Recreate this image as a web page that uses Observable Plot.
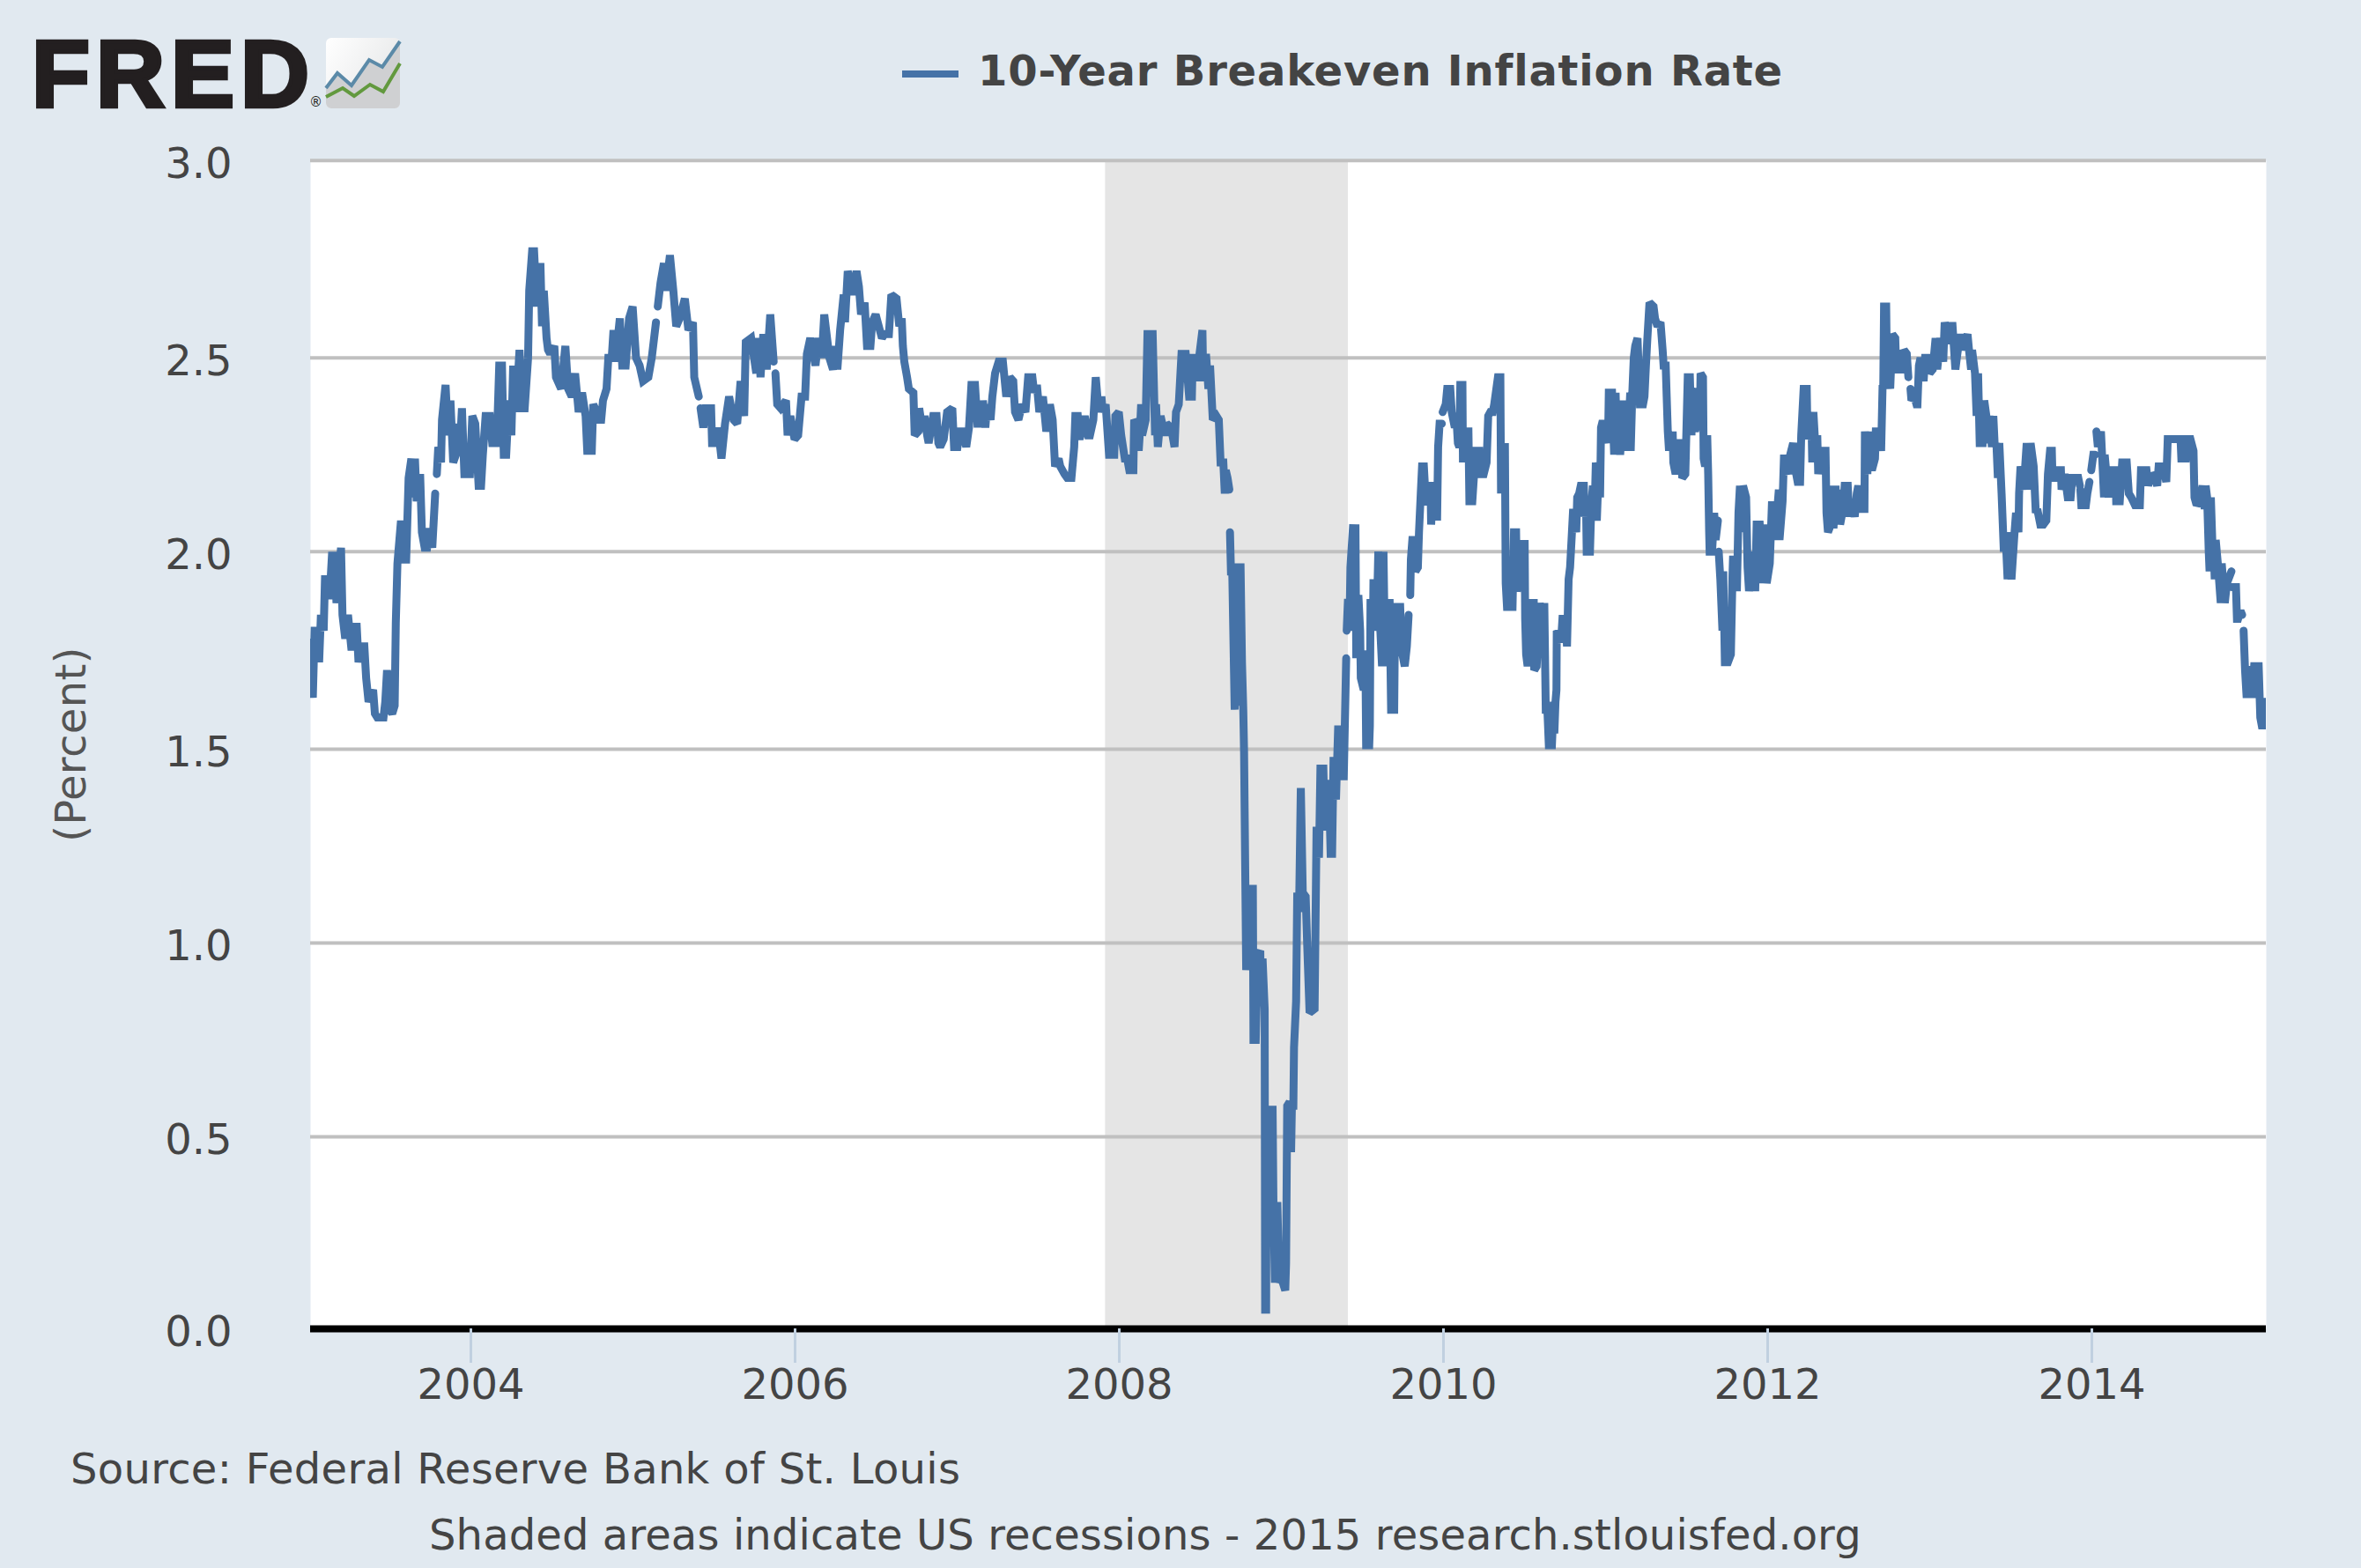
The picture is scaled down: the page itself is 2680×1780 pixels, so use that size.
<!DOCTYPE html>
<html>
<head>
<meta charset="utf-8">
<script src="https://cdn.jsdelivr.net/npm/d3@7"></script>
<script src="https://cdn.jsdelivr.net/npm/@observablehq/plot@0.6"></script>
<style>
html,body{margin:0;padding:0;background:#E1E9F0;width:2680px;height:1780px;overflow:hidden;font-family:"DejaVu Sans",sans-serif;}
#wrap{position:relative;width:2680px;height:1780px;}
#chart{position:absolute;left:0;top:0;}
.t{position:absolute;white-space:nowrap;line-height:1;}
</style>
</head>
<body>
<div id="wrap">
<div id="chart"></div>
<svg style="position:absolute;left:0;top:0" width="470" height="140">
  <defs><linearGradient id="g" x1="0" y1="0" x2="1" y2="0.6"><stop offset="0" stop-color="#ffffff"/><stop offset="1" stop-color="#e6e7e8"/></linearGradient></defs>
  <rect x="370" y="43" width="84" height="80" rx="6" fill="url(#g)"/>
  <path d="M370 100L383 83L399 97L419 68L434 76L454 47V117a6 6 0 0 1-6 6H376a6 6 0 0 1-6-6Z" fill="#cfd0d2"/>
  <polyline points="370,100 383,83 399,97 419,68 434,76 454,47" fill="none" stroke="#5B8AA8" stroke-width="4"/>
  <polyline points="370,110 389,100 402,109 420,96 435,104 454,72" fill="none" stroke="#62993E" stroke-width="4"/>
</svg>
<div class="t" id="logo" style="left:36px;top:30px;font-family:'Liberation Sans';font-weight:700;font-size:108px;letter-spacing:7px;color:#231F20;-webkit-text-stroke:4.5px #231F20;">FRE<span style="letter-spacing:0;">D</span><span style="font-family:'DejaVu Sans';font-weight:400;font-size:15px;letter-spacing:0;-webkit-text-stroke:0;">®</span></div>
<svg style="position:absolute;left:1024px;top:78px" width="64" height="12"><line x1="0" x2="64" y1="6" y2="6" stroke="#4572A7" stroke-width="8"/></svg>
<div class="t" id="title" style="left:1110px;top:56px;font-weight:700;font-size:48px;letter-spacing:0.8px;color:#444444;">10-Year Breakeven Inflation Rate</div>
<div class="t" id="ylab" style="left:80px;top:845px;font-size:48px;letter-spacing:0.4px;color:#555;transform:translate(-50%,-50%) rotate(-90deg);">(Percent)</div>
<div class="t" id="src1" style="left:80px;top:1643px;font-size:48px;letter-spacing:0.3px;color:#444;">Source: Federal Reserve Bank of St. Louis</div>
<div class="t" id="src2" style="left:487px;top:1718px;font-size:48px;letter-spacing:0.12px;color:#444;">Shaded areas indicate US recessions - 2015 research.stlouisfed.org</div>
</div>
<script>
const yTicks = [0, 0.5, 1, 1.5, 2, 2.5, 3];
const yearTicks = [2004, 2006, 2008, 2010, 2012, 2014];
const recession = [{start: 2007.915, end: 2009.413}];

const series2003 = [[2003.014,1.77],[2003.025,1.63],[2003.036,1.80],[2003.053,1.80],[2003.064,1.72],[2003.075,1.84],[2003.092,1.80],[2003.100,1.93],[2003.113,1.93],[2003.128,1.88],[2003.143,1.99],[2003.161,1.99],[2003.171,1.87],[2003.199,2.01],[2003.208,1.84],[2003.225,1.78],[2003.242,1.84],[2003.264,1.75],[2003.279,1.81],[2003.296,1.81],[2003.307,1.72],[2003.322,1.76],[2003.343,1.76],[2003.354,1.68],[2003.369,1.62],[2003.397,1.65],[2003.408,1.59],[2003.423,1.58],[2003.461,1.58],[2003.472,1.62],[2003.483,1.70],[2003.500,1.60],[2003.515,1.59],[2003.530,1.61],[2003.537,1.82],[2003.547,1.97],[2003.569,2.08],[2003.586,1.98],[2003.601,1.98],[2003.616,2.19],[2003.633,2.24],[2003.644,2.14],[2003.655,2.24],[2003.666,2.13],[2003.687,2.20],[2003.698,2.05],[2003.715,2.01],[2003.730,2.01],[2003.745,2.06],[2003.762,2.01],[2003.780,2.15],[2003.785,null],[2003.790,2.20],[2003.799,2.27],[2003.816,2.23],[2003.822,2.34],[2003.844,2.43],[2003.859,2.30],[2003.874,2.39],[2003.891,2.23],[2003.908,2.25],[2003.917,2.33],[2003.930,2.25],[2003.945,2.37],[2003.960,2.20],[2003.994,2.20]];

const series2004 = [[2004.009,2.35],[2004.027,2.33],[2004.048,2.17],[2004.063,2.17],[2004.074,2.25],[2004.091,2.35],[2004.117,2.35],[2004.132,2.28],[2004.160,2.28],[2004.175,2.48],[2004.192,2.48],[2004.203,2.25],[2004.218,2.25],[2004.235,2.39],[2004.250,2.30],[2004.261,2.48],[2004.278,2.36],[2004.300,2.52],[2004.317,2.37],[2004.332,2.37],[2004.353,2.50],[2004.360,2.67],[2004.378,2.77],[2004.390,2.77],[2004.407,2.63],[2004.429,2.74],[2004.439,2.58],[2004.450,2.67],[2004.467,2.55],[2004.476,2.52],[2004.489,2.51],[2004.515,2.53],[2004.525,2.45],[2004.557,2.42],[2004.583,2.53],[2004.600,2.42],[2004.622,2.40],[2004.643,2.46],[2004.665,2.36],[2004.686,2.41],[2004.708,2.35],[2004.718,2.26],[2004.746,2.26],[2004.755,2.38],[2004.776,2.36],[2004.783,2.34],[2004.804,2.34],[2004.815,2.39],[2004.837,2.42],[2004.848,2.50],[2004.869,2.50],[2004.880,2.57],[2004.891,2.49],[2004.919,2.60],[2004.934,2.48],[2004.955,2.48],[2004.976,2.60],[2004.998,2.63]];

const series2005 = [[2005.019,2.50],[2005.041,2.48],[2005.062,2.44],[2005.095,2.45],[2005.116,2.50],[2005.142,2.59],[2005.148,null],[2005.153,2.63],[2005.170,2.69],[2005.191,2.74],[2005.202,2.67],[2005.228,2.76],[2005.249,2.67],[2005.267,2.58],[2005.288,2.60],[2005.320,2.65],[2005.342,2.57],[2005.370,2.59],[2005.378,2.45],[2005.406,2.40],[2005.411,null],[2005.417,2.37],[2005.434,2.32],[2005.449,2.37],[2005.482,2.37],[2005.488,2.28],[2005.514,2.28],[2005.525,2.32],[2005.546,2.24],[2005.568,2.33],[2005.593,2.40],[2005.621,2.34],[2005.643,2.33],[2005.664,2.44],[2005.686,2.35],[2005.696,2.54],[2005.729,2.55],[2005.761,2.46],[2005.772,2.55],[2005.787,2.45],[2005.804,2.56],[2005.825,2.47],[2005.847,2.61],[2005.868,2.49],[2005.874,null],[2005.879,2.46],[2005.890,2.38],[2005.911,2.37],[2005.944,2.39],[2005.954,2.30],[2005.971,2.35],[2005.997,2.29]];

const series2006 = [[2006.019,2.30],[2006.040,2.40],[2006.062,2.40],[2006.073,2.51],[2006.094,2.55],[2006.126,2.48],[2006.144,2.55],[2006.165,2.50],[2006.180,2.61],[2006.212,2.50],[2006.234,2.47],[2006.250,2.53],[2006.261,2.47],[2006.278,2.57],[2006.300,2.66],[2006.308,2.59],[2006.325,2.72],[2006.358,2.66],[2006.379,2.72],[2006.394,2.68],[2006.407,2.61],[2006.429,2.64],[2006.444,2.53],[2006.465,2.53],[2006.476,2.59],[2006.497,2.61],[2006.536,2.55],[2006.551,2.56],[2006.579,2.56],[2006.594,2.66],[2006.626,2.65],[2006.643,2.58],[2006.658,2.60],[2006.665,2.53],[2006.674,2.49],[2006.691,2.45],[2006.702,2.42],[2006.730,2.41],[2006.738,2.30],[2006.760,2.31],[2006.766,2.37],[2006.787,2.31],[2006.798,2.35],[2006.815,2.30],[2006.824,2.28],[2006.852,2.35],[2006.873,2.35],[2006.884,2.28],[2006.895,2.27],[2006.917,2.29],[2006.938,2.36],[2006.970,2.37],[2006.981,2.27]];

const series2007 = [[2007.002,2.27],[2007.017,2.31],[2007.035,2.31],[2007.056,2.27],[2007.073,2.32],[2007.088,2.43],[2007.110,2.43],[2007.125,2.33],[2007.153,2.33],[2007.159,2.39],[2007.174,2.32],[2007.185,2.38],[2007.206,2.34],[2007.217,2.40],[2007.234,2.46],[2007.256,2.49],[2007.282,2.49],[2007.303,2.40],[2007.325,2.45],[2007.346,2.44],[2007.357,2.36],[2007.378,2.34],[2007.400,2.38],[2007.421,2.36],[2007.438,2.45],[2007.464,2.45],[2007.475,2.41],[2007.492,2.43],[2007.507,2.36],[2007.529,2.40],[2007.550,2.31],[2007.572,2.38],[2007.589,2.34],[2007.604,2.22],[2007.626,2.24],[2007.636,2.22],[2007.662,2.20],[2007.679,2.19],[2007.705,2.19],[2007.722,2.27],[2007.729,2.35],[2007.744,2.35],[2007.755,2.29],[2007.776,2.32],[2007.787,2.35],[2007.808,2.30],[2007.819,2.30],[2007.840,2.34],[2007.855,2.45],[2007.873,2.36],[2007.890,2.40],[2007.898,2.36],[2007.916,2.38],[2007.937,2.25],[2007.969,2.25],[2007.976,2.35],[2007.997,2.36]];

const series2008 = [[2008.012,2.30],[2008.034,2.24],[2008.049,2.24],[2008.062,2.21],[2008.087,2.21],[2008.092,2.34],[2008.109,2.33],[2008.120,2.26],[2008.126,2.30],[2008.135,2.38],[2008.141,2.30],[2008.163,2.34],[2008.168,2.44],[2008.174,2.56],[2008.206,2.56],[2008.221,2.30],[2008.227,2.38],[2008.238,2.27],[2008.255,2.35],[2008.281,2.30],[2008.292,2.33],[2008.320,2.32],[2008.341,2.27],[2008.350,2.36],[2008.367,2.38],[2008.384,2.51],[2008.410,2.51],[2008.431,2.40],[2008.448,2.40],[2008.453,2.50],[2008.470,2.50],[2008.485,2.44],[2008.495,2.51],[2008.513,2.57],[2008.518,2.44],[2008.535,2.51],[2008.550,2.42],[2008.560,2.48],[2008.577,2.34],[2008.599,2.35],[2008.614,2.34],[2008.625,2.23],[2008.642,2.23],[2008.651,2.15],[2008.657,2.21],[2008.668,2.19],[2008.679,2.16],[2008.681,null],[2008.683,2.05],[2008.689,1.95],[2008.697,1.95],[2008.712,1.60],[2008.725,1.97],[2008.737,1.61],[2008.748,1.97],[2008.757,1.72],[2008.765,1.60],[2008.770,1.49],[2008.783,0.93],[2008.801,1.15],[2008.812,0.93],[2008.824,1.15],[2008.828,0.75],[2008.842,0.75],[2008.855,0.97],[2008.870,0.98],[2008.873,0.85],[2008.884,0.96],[2008.897,0.83],[2008.900,0.05],[2008.906,0.05],[2008.909,0.57],[2008.920,0.32],[2008.933,0.57],[2008.946,0.57],[2008.951,0.33],[2008.960,0.12],[2008.975,0.33],[2008.987,0.12],[2008.996,0.13]];

const series2009 = [[2009.009,0.12],[2009.024,0.10],[2009.029,0.17],[2009.036,0.58],[2009.051,0.59],[2009.060,0.46],[2009.065,0.58],[2009.074,0.58],[2009.078,0.73],[2009.091,0.85],[2009.098,1.13],[2009.109,1.08],[2009.120,1.40],[2009.132,1.13],[2009.150,1.12],[2009.159,1.00],[2009.174,0.82],[2009.205,0.83],[2009.217,1.29],[2009.223,1.29],[2009.232,1.22],[2009.241,1.45],[2009.259,1.45],[2009.268,1.29],[2009.281,1.42],[2009.295,1.38],[2009.304,1.23],[2009.313,1.23],[2009.322,1.48],[2009.337,1.37],[2009.350,1.55],[2009.368,1.55],[2009.373,1.43],[2009.385,1.43],[2009.400,1.73],[2009.402,null],[2009.403,1.80],[2009.411,1.88],[2009.420,1.80],[2009.426,1.96],[2009.443,2.07],[2009.452,1.90],[2009.457,2.07],[2009.462,1.74],[2009.470,1.74],[2009.475,1.89],[2009.486,1.80],[2009.490,1.68],[2009.508,1.65],[2009.518,1.75],[2009.523,1.51],[2009.542,1.51],[2009.546,1.56],[2009.550,1.88],[2009.565,1.80],[2009.568,1.92],[2009.583,1.92],[2009.587,1.80],[2009.598,2.00],[2009.606,1.84],[2009.621,1.71],[2009.630,2.00],[2009.640,1.71],[2009.649,1.87],[2009.668,1.87],[2009.677,1.60],[2009.696,1.60],[2009.700,1.78],[2009.714,1.86],[2009.733,1.86],[2009.742,1.75],[2009.761,1.71],[2009.774,1.76],[2009.785,1.84],[2009.790,null],[2009.795,1.89],[2009.799,1.98],[2009.808,2.03],[2009.820,2.03],[2009.827,1.95],[2009.842,1.96],[2009.849,2.05],[2009.860,2.15],[2009.868,2.22],[2009.879,2.22],[2009.892,2.12],[2009.905,2.17],[2009.920,2.17],[2009.924,2.07],[2009.935,2.16],[2009.939,2.09],[2009.961,2.09],[2009.967,2.27],[2009.976,2.33],[2009.990,2.33],[2009.993,null],[2009.995,2.36]];

const series2010 = [[2010.014,2.38],[2010.023,2.42],[2010.042,2.42],[2010.051,2.36],[2010.070,2.32],[2010.079,2.35],[2010.089,2.28],[2010.098,2.27],[2010.104,2.43],[2010.117,2.43],[2010.120,2.24],[2010.126,2.24],[2010.141,2.31],[2010.154,2.31],[2010.160,2.13],[2010.178,2.13],[2010.192,2.22],[2010.201,2.26],[2010.220,2.26],[2010.223,2.20],[2010.248,2.20],[2010.266,2.23],[2010.276,2.35],[2010.289,2.36],[2010.304,2.36],[2010.313,2.38],[2010.336,2.45],[2010.351,2.45],[2010.355,2.16],[2010.369,2.16],[2010.379,2.28],[2010.384,1.92],[2010.392,1.86],[2010.403,1.86],[2010.426,1.86],[2010.435,2.05],[2010.448,2.05],[2010.453,1.90],[2010.467,1.92],[2010.482,2.02],[2010.501,2.02],[2010.504,1.83],[2010.510,1.74],[2010.519,1.71],[2010.538,1.87],[2010.557,1.87],[2010.560,1.70],[2010.575,1.71],[2010.594,1.87],[2010.613,1.80],[2010.622,1.87],[2010.631,1.60],[2010.641,1.60],[2010.650,1.51],[2010.669,1.51],[2010.680,1.62],[2010.684,1.54],[2010.691,1.62],[2010.697,1.65],[2010.699,1.80],[2010.716,1.79],[2010.725,1.77],[2010.734,1.83],[2010.753,1.83],[2010.762,1.76],[2010.772,1.93],[2010.781,1.96],[2010.790,2.03],[2010.800,2.11],[2010.819,2.05],[2010.825,2.14],[2010.837,2.15],[2010.847,2.17],[2010.866,2.17],[2010.871,2.09],[2010.879,2.14],[2010.884,1.99],[2010.897,2.12],[2010.903,1.99],[2010.912,2.12],[2010.922,2.17],[2010.931,2.08],[2010.940,2.23],[2010.946,2.08],[2010.959,2.23],[2010.966,2.14],[2010.972,2.32],[2010.978,2.33],[2010.996,2.33]];

const series2011 = [[2011.015,2.28],[2011.020,2.41],[2011.040,2.41],[2011.053,2.25],[2011.062,2.41],[2011.071,2.25],[2011.077,2.38],[2011.090,2.25],[2011.109,2.38],[2011.122,2.38],[2011.137,2.26],[2011.152,2.41],[2011.155,2.26],[2011.165,2.41],[2011.174,2.50],[2011.183,2.53],[2011.197,2.55],[2011.212,2.38],[2011.231,2.38],[2011.240,2.40],[2011.249,2.48],[2011.258,2.55],[2011.271,2.64],[2011.296,2.63],[2011.305,2.60],[2011.320,2.58],[2011.339,2.59],[2011.352,2.52],[2011.358,2.48],[2011.371,2.48],[2011.377,2.40],[2011.384,2.31],[2011.390,2.27],[2011.408,2.27],[2011.414,2.31],[2011.418,2.23],[2011.432,2.20],[2011.455,2.28],[2011.464,2.28],[2011.473,2.19],[2011.492,2.20],[2011.507,2.45],[2011.520,2.45],[2011.530,2.30],[2011.534,2.41],[2011.549,2.42],[2011.552,2.31],[2011.563,2.33],[2011.582,2.35],[2011.586,2.46],[2011.601,2.45],[2011.605,2.24],[2011.614,2.22],[2011.627,2.30],[2011.633,2.20],[2011.639,2.05],[2011.642,2.00],[2011.657,2.00],[2011.670,2.10],[2011.679,2.03],[2011.693,2.08],[2011.695,null],[2011.698,2.00],[2011.708,1.93],[2011.721,1.80],[2011.726,1.95],[2011.736,1.72],[2011.755,1.72],[2011.773,1.74],[2011.783,1.94],[2011.786,1.98],[2011.801,1.98],[2011.810,1.90],[2011.820,2.10],[2011.829,2.17],[2011.839,2.05],[2011.848,2.17],[2011.867,2.14],[2011.876,1.96],[2011.885,1.90],[2011.913,2.00],[2011.923,1.90],[2011.932,2.07],[2011.951,2.07],[2011.970,1.92],[2011.979,2.07],[2011.994,1.92]];

const series2012 = [[2012.013,1.97],[2012.026,2.12],[2012.039,2.12],[2012.044,2.03],[2012.069,2.16],[2012.073,2.03],[2012.092,2.13],[2012.101,2.25],[2012.110,2.22],[2012.129,2.20],[2012.133,2.24],[2012.157,2.28],[2012.176,2.20],[2012.185,2.18],[2012.200,2.18],[2012.207,2.30],[2012.222,2.42],[2012.241,2.42],[2012.246,2.29],[2012.269,2.36],[2012.275,2.23],[2012.282,2.36],[2012.293,2.28],[2012.306,2.30],[2012.312,2.20],[2012.325,2.24],[2012.331,2.20],[2012.338,2.26],[2012.357,2.26],[2012.363,2.10],[2012.372,2.05],[2012.381,2.06],[2012.400,2.17],[2012.406,2.06],[2012.419,2.17],[2012.424,2.07],[2012.443,2.16],[2012.447,2.07],[2012.465,2.11],[2012.475,2.17],[2012.494,2.17],[2012.503,2.09],[2012.518,2.13],[2012.537,2.09],[2012.550,2.15],[2012.559,2.17],[2012.578,2.11],[2012.597,2.11],[2012.600,2.31],[2012.615,2.20],[2012.625,2.31],[2012.643,2.21],[2012.662,2.24],[2012.668,2.32],[2012.681,2.26],[2012.686,2.32],[2012.700,2.26],[2012.709,2.43],[2012.713,2.42],[2012.718,2.63],[2012.731,2.63],[2012.737,2.42],[2012.746,2.50],[2012.756,2.42],[2012.769,2.56],[2012.787,2.55],[2012.793,2.47],[2012.812,2.47],[2012.821,2.52],[2012.830,2.46],[2012.840,2.52],[2012.858,2.51],[2012.868,2.45],[2012.874,null],[2012.881,2.42],[2012.887,2.39],[2012.905,2.40],[2012.918,2.38],[2012.924,2.38],[2012.933,2.48],[2012.943,2.50],[2012.962,2.44],[2012.971,2.50],[2012.990,2.50],[2012.999,2.46]];

const series2013 = [[2013.018,2.47],[2013.036,2.55],[2013.046,2.47],[2013.065,2.55],[2013.083,2.49],[2013.092,2.59],[2013.111,2.55],[2013.130,2.54],[2013.139,2.59],[2013.158,2.47],[2013.167,2.50],[2013.186,2.56],[2013.205,2.52],[2013.233,2.56],[2013.242,2.52],[2013.255,2.47],[2013.261,2.52],[2013.279,2.46],[2013.289,2.35],[2013.298,2.46],[2013.308,2.28],[2013.326,2.28],[2013.336,2.39],[2013.349,2.35],[2013.354,2.28],[2013.368,2.35],[2013.383,2.27],[2013.392,2.35],[2013.401,2.27],[2013.411,2.28],[2013.420,2.19],[2013.429,2.28],[2013.443,2.15],[2013.457,2.00],[2013.467,2.05],[2013.480,1.93],[2013.485,2.05],[2013.504,1.93],[2013.523,2.05],[2013.532,2.10],[2013.547,2.05],[2013.551,2.15],[2013.560,2.22],[2013.579,2.16],[2013.598,2.28],[2013.607,2.16],[2013.622,2.28],[2013.641,2.22],[2013.654,2.10],[2013.663,2.11],[2013.682,2.07],[2013.701,2.07],[2013.719,2.08],[2013.729,2.20],[2013.742,2.26],[2013.753,2.26],[2013.757,2.19],[2013.785,2.19],[2013.790,2.21],[2013.809,2.21],[2013.813,2.16],[2013.832,2.20],[2013.851,2.14],[2013.869,2.14],[2013.879,2.19],[2013.916,2.19],[2013.926,2.17],[2013.927,null],[2013.929,2.16],[2013.935,2.12],[2013.963,2.12],[2013.972,2.15],[2013.985,2.18],[2013.990,null],[2013.996,2.21]];

const series2014 = [[2014.009,2.25],[2014.019,2.25],[2014.023,null],[2014.028,2.31],[2014.037,2.27],[2014.056,2.31],[2014.075,2.14],[2014.079,2.25],[2014.103,2.14],[2014.122,2.21],[2014.146,2.21],[2014.150,2.13],[2014.172,2.13],[2014.187,2.23],[2014.215,2.23],[2014.228,2.15],[2014.243,2.14],[2014.266,2.12],[2014.296,2.12],[2014.303,2.21],[2014.337,2.21],[2014.347,2.17],[2014.365,2.20],[2014.389,2.19],[2014.403,2.17],[2014.412,2.22],[2014.440,2.22],[2014.459,2.18],[2014.468,2.29],[2014.505,2.29],[2014.524,2.29],[2014.547,2.29],[2014.552,2.24],[2014.580,2.24],[2014.590,2.29],[2014.608,2.29],[2014.627,2.26],[2014.633,2.14],[2014.646,2.12],[2014.665,2.13],[2014.683,2.17],[2014.696,2.11],[2014.702,2.17],[2014.711,2.14],[2014.721,2.00],[2014.726,1.95],[2014.734,2.14],[2014.745,2.00],[2014.749,2.03],[2014.758,1.93],[2014.764,2.03],[2014.777,1.97],[2014.795,1.87],[2014.801,1.97],[2014.820,1.87],[2014.833,1.92],[2014.861,1.95],[2014.863,null],[2014.865,1.91],[2014.889,1.91],[2014.895,1.83],[2014.902,1.83],[2014.917,1.85],[2014.927,1.84],[2014.931,null],[2014.936,1.80],[2014.945,1.70],[2014.955,1.63],[2014.973,1.71],[2014.988,1.63]];

const series2015 = [[2015.001,1.71],[2015.029,1.71],[2015.039,1.58],[2015.048,1.56],[2015.067,1.56],[2015.071,1.62],[2015.076,1.62]];

const rows = [series2003, series2004, series2005, series2006, series2007, series2008, series2009, series2010, series2011, series2012, series2013, series2014, series2015]
  .flat().map(([t, v]) => ({t, v}));

const chart = Plot.plot({
  width: 2680,
  height: 1780,
  marginLeft: 352,
  marginRight: 108,
  marginTop: 182,
  marginBottom: 272,
  style: {background: "transparent", fontFamily: "'DejaVu Sans', sans-serif"},
  x: {type: "linear", domain: [2003.011, 2015.076]},
  y: {type: "linear", domain: yTicks, range: [1508, 1290, 1070, 850, 625.7, 405.7, 181.7]},
  marks: [
    Plot.frame({fill: "#ffffff", stroke: "none"}),
    Plot.rectY(recession, {x1: "start", x2: "end", y1: 0, y2: 3, fill: "#E5E5E5"}),
    Plot.ruleY(yTicks.filter(d => d > 0), {stroke: "#C0C0C0", strokeWidth: 4}),
    Plot.lineY(rows, {x: "t", y: "v", stroke: "#4572A7", strokeWidth: 9, curve: "linear", strokeLinejoin: "miter", strokeMiterlimit: 2, clip: "frame"}),
    Plot.ruleY([0], {stroke: "#000000", strokeWidth: 8}),
    Plot.axisY({ticks: yTicks, tickFormat: d3.format(".1f"), tickSize: 0, tickPadding: 89, fontSize: 48, fill: "#444444", label: null, dy: 4}),
    Plot.axisX({ticks: yearTicks, tickFormat: "d", tickSize: 39, tickPadding: 6, fontSize: 48, fill: "#444444", stroke: "#C0D0E0", strokeWidth: 3, label: null})
  ]
});
document.getElementById("chart").appendChild(chart);
</script>
</body>
</html>
